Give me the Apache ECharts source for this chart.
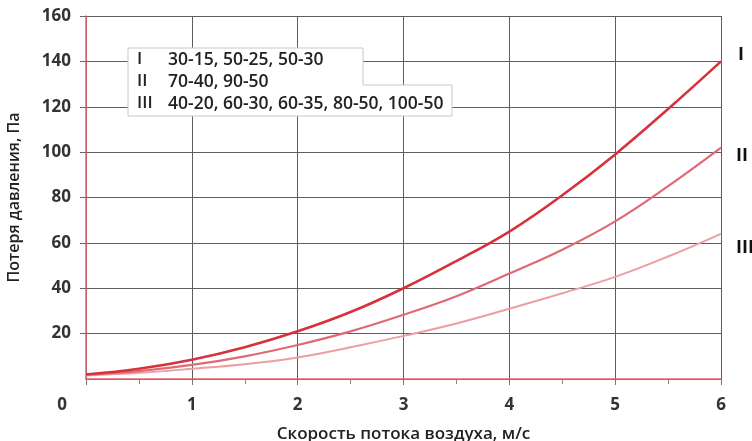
<!DOCTYPE html>
<html>
<head>
<meta charset="utf-8">
<script src="https://cdn.jsdelivr.net/npm/echarts@6/dist/echarts.min.js"></script>
<style>
html,body{margin:0;padding:0;background:#fff;}
#chart{width:752px;height:441px;}
</style>
</head>
<body>
<div id="chart"></div>
<script>
// Data
const speeds = [0, 0.5, 1, 1.5, 2, 2.5, 3, 3.5, 4, 4.5, 5, 5.5, 6];
const lossI   = [2, 4.5, 8.5, 14, 21, 29.5, 40, 52, 65, 81, 99, 119, 140];
const lossII  = [2, 3.5, 6.2, 10, 15, 21, 28.3, 36.5, 46.5, 57, 69.5, 85, 102];
const lossIII = [1.5, 2.7, 4.5, 6.5, 9.5, 14, 19, 24.5, 31, 37.8, 45, 54, 64];
const seriesNames = ['I', 'II', 'III'];
const legendLines = ['30-15, 50-25, 50-30', '70-40, 90-50', '40-20, 60-30, 60-35, 80-50, 100-50'];
const xTitle = 'Скорость потока воздуха, м/с';
const yTitle = 'Потеря давления, Па';

const FONT = '"Open Sans", "Noto Sans", sans-serif';
const colors = ['#d6323c', '#df6a73', '#eb9ea3'];
const widths = [2.6, 2.2, 2];
const endOffsets = [[9, -7], [7, 8], [7, 14]];
const allData = [lossI, lossII, lossIII];

const chart = echarts.init(document.getElementById('chart'), null, {renderer: 'canvas'});

const series = allData.map((vals, i) => ({
  name: seriesNames[i],
  type: 'line',
  smooth: 0.4,
  symbol: 'none',
  z: 5 - i,
  data: speeds.map((x, k) => [x, vals[k]]),
  lineStyle: {color: colors[i], width: widths[i]},
  endLabel: {
    show: true,
    formatter: '{a}',
    color: '#111',
    fontFamily: FONT,
    fontWeight: 700,
    fontSize: 18,
    offset: endOffsets[i]
  }
}));

const legendGraphics = [
  {
    type: 'polygon',
    z: 50,
    shape: {points: [[128, 48], [363, 48], [363, 85], [452, 85], [452, 116], [128, 116]]},
    style: {fill: '#fff', stroke: '#c8c8c8', lineWidth: 1}
  }
];
legendLines.forEach((t, i) => {
  legendGraphics.push({
    type: 'text', z: 51, left: 137, top: 51 + i * 22,
    style: {text: seriesNames[i], font: '600 17px ' + FONT, fill: '#222'}
  });
  legendGraphics.push({
    type: 'text', z: 51, left: 168, top: 51 + i * 22,
    style: {text: t, font: '600 17.5px ' + FONT, fill: '#222'}
  });
});

chart.setOption({
  animation: false,
  backgroundColor: '#fff',
  grid: {left: 86, right: 31, top: 16, bottom: 62, containLabel: false, outerBoundsMode: 'none'},
  xAxis: {
    type: 'value',
    min: 0, max: 6, interval: 1,
    name: xTitle,
    nameLocation: 'middle',
    nameGap: 47,
    nameTextStyle: {fontFamily: FONT, fontWeight: 600, fontSize: 17, color: '#222'},
    axisLine: {show: true, onZero: false, lineStyle: {color: '#e8606c', width: 1.5}},
    axisTick: {show: true, length: 6, lineStyle: {color: '#777'}},
    minorTick: {show: true, splitNumber: 2, length: 5, lineStyle: {color: '#888'}},
    axisLabel: {
      margin: 18,
      fontFamily: FONT, fontWeight: 700, fontSize: 17, color: '#333',
      formatter: v => v === 0 ? '{z|0}' : String(v),
      rich: {z: {fontFamily: FONT, fontWeight: 700, fontSize: 17, color: '#333', padding: [0, 48, 0, 0]}}
    },
    splitLine: {show: true, lineStyle: {color: '#5e5e5e', width: 1}}
  },
  yAxis: {
    type: 'value',
    min: 0, max: 160, interval: 20,
    name: yTitle,
    nameLocation: 'middle',
    nameGap: 64,
    nameRotate: 90,
    nameTextStyle: {fontFamily: FONT, fontWeight: 600, fontSize: 16, color: '#222'},
    axisLine: {show: true, lineStyle: {color: '#e8606c', width: 1.5}},
    axisTick: {show: true, length: 6, lineStyle: {color: '#666'}},
    axisLabel: {
      showMinLabel: false,
      margin: 15,
      fontFamily: FONT, fontWeight: 700, fontSize: 17, color: '#333'
    },
    splitLine: {show: true, lineStyle: {color: '#5e5e5e', width: 1}}
  },
  series: series,
  graphic: legendGraphics
});
</script>
</body>
</html>
